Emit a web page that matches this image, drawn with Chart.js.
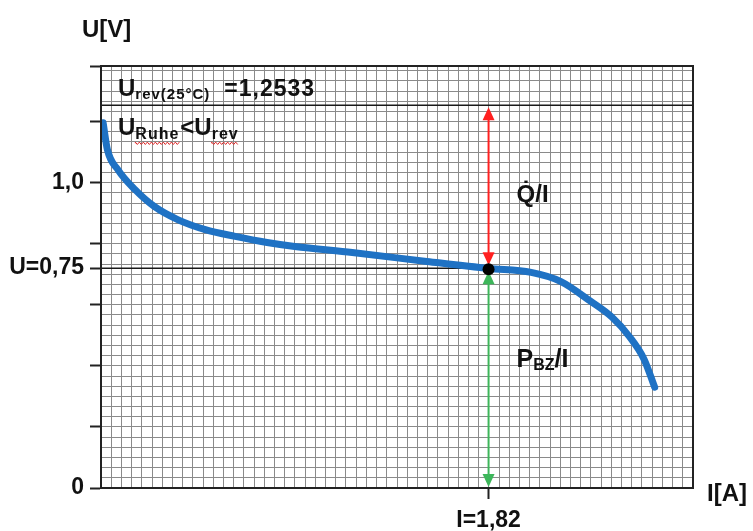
<!DOCTYPE html>
<html>
<head>
<meta charset="utf-8">
<script src="https://cdn.jsdelivr.net/npm/chart.js@4.4.1/dist/chart.umd.min.js"></script>
<style>
  html, body { margin: 0; padding: 0; background: #fff; }
  #wrap { width: 753px; height: 531px; }
</style>
</head>
<body>
<div id="wrap"><canvas id="kennlinie"></canvas></div>
<script>
// Strom I [A] und Zellspannung U [V]
const currentA = [0.01, 0.03, 0.08, 0.16, 0.25, 0.36, 0.49, 0.63, 0.78, 0.91, 1.18, 1.53, 1.82, 2.02, 2.16, 2.30, 2.40, 2.48, 2.55, 2.60];
const voltageV = [1.196, 1.108, 1.042, 0.977, 0.922, 0.879, 0.846, 0.824, 0.804, 0.791, 0.771, 0.742, 0.719, 0.706, 0.676, 0.611, 0.559, 0.497, 0.422, 0.330];

const uRev = 1.2533;          // reversible Zellspannung
const opCurrent = 1.82;       // Betriebspunkt
const opVoltage = 0.72;
const xMax = 2.78;
const yMax = 1.382;

const yTicks = [0, 0.2, 0.4, 0.6, 0.8, 1.0, 1.2];
const yTickText = ['0', '', '', '', '', '1,0', ''];
const opVoltageText = 'U=0,75';
const opCurrentText = 'I=1,82';

const BOLD = '"Liberation Sans", Arial, sans-serif';
const GRID = '#8a8a8a';

function arrowHead(ctx, x, tipY, dir, color) {
    // dir = -1 zeigt nach oben, +1 nach unten
    ctx.fillStyle = color;
    ctx.beginPath();
    ctx.moveTo(x, tipY);
    ctx.lineTo(x - 6, tipY - dir * 13);
    ctx.lineTo(x + 6, tipY - dir * 13);
    ctx.closePath();
    ctx.fill();
}

function doubleArrow(ctx, x, yTop, yBottom, color) {
    ctx.save();
    ctx.strokeStyle = color;
    ctx.lineWidth = 2;
    ctx.beginPath();
    ctx.moveTo(x, yTop + 6);
    ctx.lineTo(x, yBottom - 6);
    ctx.stroke();
    arrowHead(ctx, x, yTop, -1, color);
    arrowHead(ctx, x, yBottom, 1, color);
    ctx.restore();
}

function squiggle(ctx, x1, x2, y) {
    ctx.save();
    ctx.strokeStyle = '#e02828';
    ctx.lineWidth = 1;
    ctx.beginPath();
    ctx.moveTo(x1, y);
    for (let x = x1, i = 0; x <= x2; x += 2, i++) {
        ctx.lineTo(x, y + (i % 2 ? 1.2 : -1.2));
    }
    ctx.stroke();
    ctx.restore();
}

// Text mit Tiefstellungen
function drawRuns(ctx, x, y, runs) {
    let cx = x;
    runs.forEach(r => {
        ctx.font = r.font;
        ctx.letterSpacing = r.spacing || '0px';
        ctx.fillText(r.text, cx, y + (r.dy || 0));
        const w = ctx.measureText(r.text).width;
        if (r.squiggle) squiggle(ctx, cx, cx + w, y + 8);
        cx += w + (r.gap || 0);
    });
    ctx.letterSpacing = '0px';
}

const annotate = {
    id: 'annotate',
    afterDatasetsDraw(chart) {
        const { ctx, chartArea: a, scales: { x, y } } = chart;
        const px = x.getPixelForValue(opCurrent);
        const py = y.getPixelForValue(opVoltage);
        const pRev = y.getPixelForValue(uRev);
        const p0 = y.getPixelForValue(0);

        doubleArrow(ctx, px, pRev + 2, py - 3, '#ff2020');
        doubleArrow(ctx, px, py + 3, p0 - 1, '#3db65a');

        ctx.save();
        ctx.fillStyle = '#000';
        ctx.beginPath();
        ctx.ellipse(px, py + 1, 6, 6, 0, 0, Math.PI * 2);
        ctx.fill();

        // Rahmen oben und rechts
        ctx.strokeStyle = '#222';
        ctx.lineWidth = 2;
        ctx.strokeRect(a.left, a.top, a.right - a.left, a.bottom - a.top);

        ctx.fillStyle = '#111';
        ctx.textBaseline = 'alphabetic';
        ctx.textAlign = 'left';
        drawRuns(ctx, a.left + 17, pRev - 9, [
            { text: 'U', font: 'bold 24px ' + BOLD },
            { text: 'rev(25°C)', font: 'bold 15px ' + BOLD, dy: 3, gap: 14, spacing: '1px' },
            { text: '=1,2533', font: 'bold 23px ' + BOLD, spacing: '1px' }
        ]);
        drawRuns(ctx, a.left + 17, pRev + 30, [
            { text: 'U', font: 'bold 24px ' + BOLD },
            { text: 'Ruhe', font: 'bold 16px ' + BOLD, dy: 4, squiggle: true, gap: 1, spacing: '1px' },
            { text: '<U', font: 'bold 24px ' + BOLD },
            { text: 'rev', font: 'bold 16px ' + BOLD, dy: 4, squiggle: true, spacing: '1px' }
        ]);
        drawRuns(ctx, px + 28, y.getPixelForValue(0.937), [
            { text: 'Q\u0307/I', font: 'bold 24px ' + BOLD }
        ]);
        drawRuns(ctx, px + 28, y.getPixelForValue(0.395), [
            { text: 'P', font: 'bold 25px ' + BOLD },
            { text: 'BZ', font: 'bold 16px ' + BOLD, dy: 3 },
            { text: '/I', font: 'bold 25px ' + BOLD }
        ]);

        // Achsentitel
        ctx.font = 'bold 24px ' + BOLD;
        ctx.fillText('U[V]', 82, 37);
        ctx.fillText('I[A]', a.right + 14, a.bottom + 13);
        ctx.restore();
    }
};

const ctx = document.getElementById('kennlinie').getContext('2d');

new Chart(ctx, {
    type: 'line',
    data: {
        datasets: [
            {
                label: 'U(I)',
                data: currentA.map((c, i) => ({ x: c, y: voltageV[i] })),
                borderColor: '#1f72c4',
                borderWidth: 7,
                borderCapStyle: 'round',
                pointRadius: 0,
                cubicInterpolationMode: 'monotone',
                order: 1
            },
            {
                label: 'U_rev',
                data: [{ x: 0, y: uRev }, { x: xMax, y: uRev }],
                borderColor: '#1a1a1a',
                borderWidth: 1.5,
                pointRadius: 0,
                order: 2
            },
            {
                label: 'U_B',
                data: [{ x: 0, y: opVoltage }, { x: opCurrent, y: opVoltage }],
                borderColor: '#1a1a1a',
                borderWidth: 1.5,
                pointRadius: 0,
                order: 2
            }
        ]
    },
    options: {
        responsive: true,
        maintainAspectRatio: false,
        animation: false,
        layout: { padding: { top: 66, right: 60, left: 0, bottom: 0 } },
        plugins: {
            legend: { display: false },
            tooltip: { enabled: false }
        },
        scales: {
            x: {
                type: 'linear',
                min: 0,
                max: xMax,
                weight: 0,
                afterBuildTicks: s => { s.ticks = Array.from({ length: 59 }, (_, k) => ({ value: k * xMax / 58 })); },
                afterFit: s => { s.height = 0; },
                ticks: { display: false },
                grid: { color: GRID, lineWidth: 1, drawTicks: false },
                border: { display: false }
            },
            y: {
                type: 'linear',
                min: 0,
                max: yMax,
                weight: 0,
                afterBuildTicks: s => { s.ticks = Array.from({ length: 42 }, (_, k) => ({ value: k / 30 })); },
                afterFit: s => { s.width = 0; },
                ticks: { display: false },
                grid: { color: GRID, lineWidth: 1, drawTicks: false },
                border: { display: false }
            },
            xLabel: {
                type: 'linear',
                position: 'bottom',
                min: 0,
                max: xMax,
                weight: 1,
                afterBuildTicks: s => { s.ticks = [{ value: opCurrent }]; },
                afterFit: s => { s.height = 43; },
                ticks: {
                    autoSkip: false,
                    maxRotation: 0,
                    padding: 8,
                    color: '#111',
                    font: { family: BOLD, size: 23, weight: 'bold' },
                    callback: () => opCurrentText
                },
                grid: { drawOnChartArea: false, tickLength: 11, tickColor: '#222', tickWidth: 2 },
                border: { display: true, color: '#111', width: 2 }
            },
            yLabel: {
                type: 'linear',
                position: 'left',
                min: 0,
                max: yMax,
                weight: 1,
                afterBuildTicks: s => {
                    s.ticks = yTicks.map(v => ({ value: v }))
                        .concat([{ value: opVoltage }, { value: yMax }]);
                },
                afterFit: s => { s.width = 101; },
                ticks: {
                    autoSkip: false,
                    padding: 6,
                    color: '#111',
                    font: { family: BOLD, size: 23, weight: 'bold' },
                    callback: v => {
                        if (Math.abs(v - opVoltage) < 1e-6) return opVoltageText;
                        const i = yTicks.findIndex(t => Math.abs(t - v) < 1e-6);
                        return i >= 0 ? yTickText[i] : '';
                    }
                },
                grid: { drawOnChartArea: false, tickLength: 11, tickColor: '#222', tickWidth: 2 },
                border: { display: true, color: '#111', width: 2 }
            }
        }
    },
    plugins: [annotate]
});
</script>
</body>
</html>
